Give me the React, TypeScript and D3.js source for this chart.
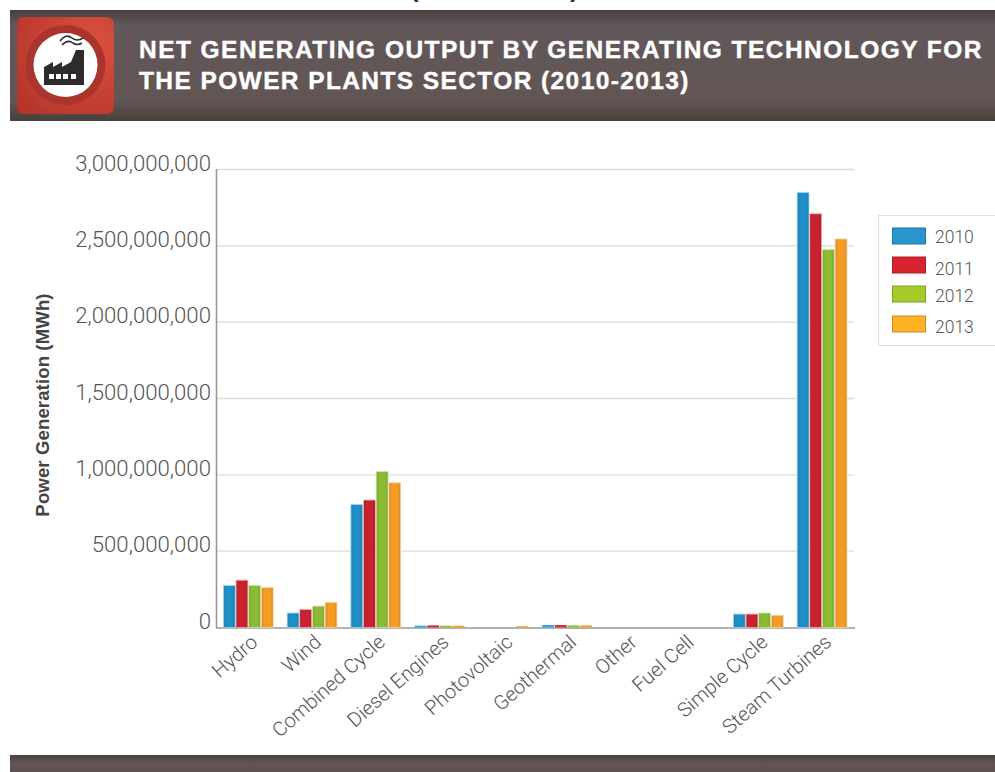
import React, { useMemo } from "react";
import * as d3 from "d3";

const categories = ["Hydro", "Wind", "Combined Cycle", "Diesel Engines", "Photovoltaic", "Geothermal", "Other", "Fuel Cell", "Simple Cycle", "Steam Turbines"];
const years = ["2010", "2011", "2012", "2013"];
const output2010 = [275000000, 95000000, 805000000, 12000000, 0, 16000000, 0, 0, 88000000, 2850000000];
const output2011 = [310000000, 118000000, 835000000, 14000000, 0, 16000000, 0, 0, 88000000, 2710000000];
const output2012 = [275000000, 140000000, 1022000000, 12000000, 0, 14000000, 0, 0, 95000000, 2475000000];
const output2013 = [262000000, 165000000, 948000000, 12000000, 9000000, 14000000, 0, 0, 80000000, 2545000000];
const seriesValues = [output2010, output2011, output2012, output2013];
const yTicks = [0, 500000000, 1000000000, 1500000000, 2000000000, 2500000000, 3000000000];
const barFill = ["#1f8fc8", "#c9222f", "#8abb35", "#f49c26"];
const barShade = ["#1b7fb3", "#b01e2a", "#79a52e", "#d98a22"];
const barEdge = ["#a9d5ec", "#eeb0b4", "#d0e4aa", "#f7d6a6"];
const stubFill = ["#35a3de", "#d42a3a", "#8fc23c", "#f6a22c"];
const swatchFill = ["#2a95cd", "#d8222f", "#a6cc2c", "#fcb225"];
const swatchEdge = ["#1c78a8", "#a81e2a", "#7f9f25", "#c98a20"];
const legendTextY = [243, 275, 302, 333];
const legendSwatchY = [228, 257, 286, 316];
const factoryWindows = [49, 56, 63, 71];
// Horizontal nudges for the slanted labels that sit off their band centre
const labelNudge = [0, 0, 0, 0, 0, 0, -3, -10, 0, 0];

const sans = "'Liberation Sans', Arimo, Helvetica, sans-serif";
const light = "Roboto, 'Liberation Sans', sans-serif";

export default function App() {
  const y = useMemo(() => d3.scaleLinear().domain([0, 3000000000]).range([627.5, 169.5]), []);
  const x0 = useMemo(() => d3.scaleBand<string>().domain(categories).range([217, 854.5]), []);
  const x1 = useMemo(() => d3.scaleBand<string>().domain(years).range([6, 56.6]), []);
  const fmt = d3.format(",");

  return (
    <svg width={995} height={772} style={{ position: "absolute", left: 0, top: 0, background: "#fff" }}>
      <defs>
        <linearGradient id="band" x1="0" y1="0" x2="0" y2="1">
          <stop offset="0" stopColor="#4a3f3d" />
          <stop offset="0.14" stopColor="#62575a" />
          <stop offset="0.82" stopColor="#625654" />
          <stop offset="1" stopColor="#483e3c" />
        </linearGradient>
        <linearGradient id="footer" x1="0" y1="0" x2="0" y2="1">
          <stop offset="0" stopColor="#4a403e" />
          <stop offset="0.5" stopColor="#625654" />
          <stop offset="1" stopColor="#5c5150" />
        </linearGradient>
        <radialGradient id="tile" cx="0.75" cy="0.3" r="0.9">
          <stop offset="0" stopColor="#dd5240" />
          <stop offset="1" stopColor="#b5352b" />
        </radialGradient>
        {barFill.map((f, s) => (
          <linearGradient key={f} id={`bar${s}`} x1="0" y1="0" x2="1" y2="0">
            <stop offset="0" stopColor={barShade[s]} />
            <stop offset="0.25" stopColor={f} />
            <stop offset="0.75" stopColor={f} />
            <stop offset="1" stopColor={barShade[s]} />
          </linearGradient>
        ))}
      </defs>

      {/* Clipped heading above the banner */}
      <text x={410} y={-3} fill="#333" fontFamily={sans} fontWeight={700} fontSize={26}>(</text>
      <text x={570} y={-3} fill="#333" fontFamily={sans} fontWeight={700} fontSize={26}>)</text>

      {/* Title banner */}
      <rect x={10} y={10} width={985} height={111} fill="url(#band)" />
      <rect x={17} y={17} width={97} height={97} rx={7} fill="url(#tile)" />
      <circle cx={65.5} cy={65} r={40} fill="#ab352c" />
      <circle cx={65.5} cy={65} r={32} fill="#fff" />
      <path d="M44 85 L44 67 L53 62 L53 67 L62 62 L62 67 L71 62 L76 50 L84 50 L84 85 Z" fill="#2e2b2b" />
      {factoryWindows.map((wx) => (
        <rect key={wx} x={wx} y={74} width={5} height={5} fill="#fff" />
      ))}
      <path d="M60 41 Q66 33 72 38 Q77 42 83 38 M62 45 Q68 39 73 43 Q77 46 82 43" fill="none" stroke="#2e2b2b" strokeWidth={1.6} />
      <text x={139} y={58} fill="#fff" stroke="#fff" strokeWidth={0.4} fontFamily={sans} fontWeight={700} fontSize={24.5} letterSpacing={1.45}>NET GENERATING OUTPUT BY GENERATING TECHNOLOGY FOR</text>
      <text x={139} y={89} fill="#fff" stroke="#fff" strokeWidth={0.4} fontFamily={sans} fontWeight={700} fontSize={24.5} letterSpacing={1.4}>THE POWER PLANTS SECTOR (2010-2013)</text>

      {/* Footer band */}
      <rect x={10} y={755} width={985} height={17} fill="url(#footer)" />

      {/* Value axis */}
      {yTicks.map((t) => (
        <g key={t}>
          {t > 0 && <line x1={217} x2={854} y1={y(t)} y2={y(t)} stroke="#dcdcdc" strokeWidth={1.3} />}
          <text x={211} y={y(t) + 1} textAnchor="end" fill="#555" fontFamily={light} fontWeight={300} fontSize={22.2}>{fmt(t)}</text>
        </g>
      ))}
      <text transform="translate(48.5,405) rotate(-90)" textAnchor="middle" fill="#444" fontFamily={sans} fontWeight={700} fontSize={18.6} letterSpacing={0.1}>Power Generation (MWh)</text>

      <line x1={216.5} x2={216.5} y1={169} y2={628} stroke="#999" strokeWidth={1.6} />
      <line x1={216} x2={855} y1={628} y2={628} stroke="#999" strokeWidth={1.6} />

      {/* Grouped bars */}
      {categories.map((c, i) => (
        <g key={c} transform={`translate(${x0(c)},0)`}>
          {years.map((yr, s) => {
            const v = seriesValues[s][i];
            if (v === 0) return null;
            const top = y(v);
            const tall = 627.5 - top > 5;
            return (
              <rect
                key={yr}
                x={x1(yr)! + 0.4}
                y={top}
                width={x1.bandwidth() - 0.8}
                height={627.5 - top}
                fill={tall ? `url(#bar${s})` : stubFill[s]}
                stroke={tall ? barEdge[s] : "none"}
                strokeWidth={0.8}
              />
            );
          })}
        </g>
      ))}

      {/* Slanted category labels */}
      {categories.map((c, i) => (
        <text key={c} transform={`translate(${x0(c)! + x0.bandwidth() / 2 + 10 + labelNudge[i]},${644}) rotate(-41.5)`} textAnchor="end" fill="#555" fontFamily={light} fontWeight={300} fontSize={20}>{c}</text>
      ))}

      {/* Legend */}
      <rect x={878.5} y={215.5} width={125} height={130} fill="#fff" stroke="#e0e0e0" />
      {years.map((yr, s) => (
        <g key={yr}>
          <rect x={892.5} y={legendSwatchY[s]} width={33} height={16} fill={swatchFill[s]} stroke={swatchEdge[s]} />
          <text x={935} y={legendTextY[s]} fill="#555" fontFamily={light} fontWeight={300} fontSize={17.5}>{yr}</text>
        </g>
      ))}
    </svg>
  );
}
